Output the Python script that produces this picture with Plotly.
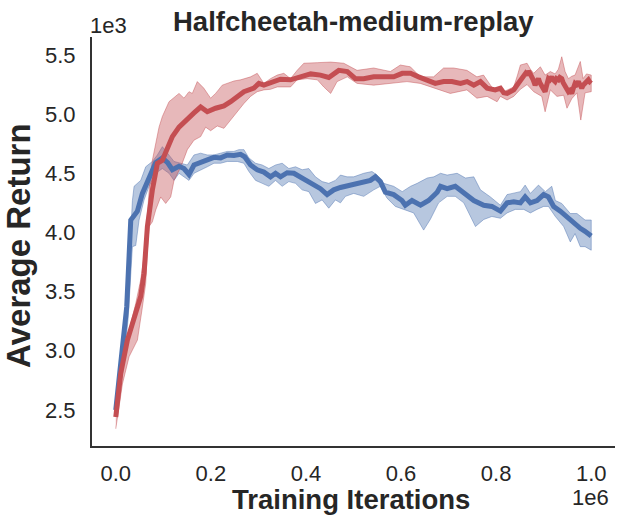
import plotly.graph_objects as go

# iterations / average return

# blue run: mean curve
blue_x = [0, 10500, 23000, 31500, 45500, 56000, 70000, 84000, 98000, 109000,
          119000, 133000, 143500, 154000, 164500, 178500, 192500, 206500, 220500, 234500,
          248500, 262500, 271000, 283500, 297500, 311500, 325500, 336000, 346500, 360500,
          374500, 388500, 402500, 416500, 430500, 444500, 458500, 472500, 493500, 514500,
          535500, 546000, 556500, 567000, 584500, 602000, 609000, 623000, 641000, 658000,
          676000, 683000, 697000, 714000, 732000, 753000, 774000, 791000, 809000, 823000,
          837000, 851000, 861000, 872000, 886000, 900000, 910000, 921000, 935000, 949000,
          963000, 977000, 987000, 1000000]
blue_mean = [2500, 2860, 3370, 4105, 4180, 4330, 4470, 4590, 4630, 4590,
             4530, 4560, 4540, 4490, 4570, 4590, 4610, 4635, 4630, 4655,
             4650, 4660, 4640, 4570, 4530, 4510, 4470, 4500, 4470, 4505,
             4500, 4470, 4440, 4400, 4370, 4320, 4360, 4380, 4400, 4415,
             4440, 4470, 4430, 4340, 4320, 4270, 4230, 4270, 4230, 4270,
             4340, 4390, 4370, 4390, 4330, 4270, 4230, 4220, 4180, 4250,
             4260, 4250, 4300, 4250, 4270, 4320, 4300, 4220, 4180, 4130,
             4080, 4035, 4010, 3970]

# blue run: band edges
blue_hi_x = [0, 10500, 24500, 35000, 38500, 52500, 63000, 77000, 87500, 98000,
             108500, 122500, 136500, 150500, 164500, 178500, 192500, 206500, 220500, 234500,
             248500, 259000, 269500, 280000, 294000, 308000, 322000, 336000, 350000, 364000,
             378000, 392000, 406000, 420000, 434000, 448000, 462000, 472500, 486500, 500500,
             521500, 539000, 549500, 563500, 584500, 602500, 620000, 634000, 655000, 669000,
             683000, 697000, 718000, 735500, 753000, 767000, 788000, 809000, 823000, 837000,
             851000, 861000, 872000, 889000, 903500, 917000, 924500, 938000, 956000, 970000,
             987000, 1000000]
blue_hi = [2530, 2920, 3430, 4270, 4390, 4440, 4555, 4600, 4655, 4725,
           4670, 4600, 4585, 4570, 4655, 4670, 4655, 4655, 4670, 4685,
           4685, 4700, 4700, 4630, 4585, 4570, 4540, 4570, 4585, 4540,
           4555, 4530, 4540, 4470, 4430, 4415, 4440, 4485, 4470, 4470,
           4500, 4515, 4485, 4415, 4390, 4345, 4390, 4415, 4460, 4470,
           4500, 4485, 4500, 4460, 4470, 4360, 4300, 4230, 4320, 4330,
           4345, 4400, 4330, 4400, 4345, 4390, 4270, 4245, 4160, 4160,
           4105, 4105]
blue_lo_x = [0, 14000, 26000, 35000, 42000, 49000, 59500, 70000, 84000, 98000,
             112000, 122500, 133000, 143500, 154000, 164500, 178500, 192500, 206500, 220500,
             234500, 255500, 269500, 280000, 294000, 308000, 322000, 336000, 350000, 364000,
             378000, 392000, 406000, 420000, 434000, 448000, 462000, 472500, 483000, 500500,
             521500, 542500, 556500, 570500, 588000, 605500, 626500, 647500, 661500, 679000,
             697000, 714000, 732000, 746000, 756500, 774000, 791000, 809000, 823000, 840500,
             858000, 872000, 886000, 900000, 910000, 924500, 942000, 956000, 966000, 977000,
             987000, 1000000]
blue_lo = [2475, 2800, 3270, 3880, 3890, 4105, 4275, 4390, 4500, 4540,
           4500, 4440, 4500, 4470, 4440, 4500, 4530, 4555, 4585, 4585,
           4600, 4600, 4585, 4515, 4440, 4415, 4390, 4440, 4390, 4430,
           4415, 4360, 4345, 4245, 4275, 4205, 4275, 4250, 4305, 4330,
           4305, 4360, 4390, 4290, 4220, 4195, 4165, 4020, 4110, 4250,
           4305, 4305, 4250, 4135, 4050, 4110, 4135, 4120, 4165, 4195,
           4195, 4165, 4195, 4220, 4220, 4135, 4050, 3920, 3990, 3880,
           3880, 3850]

# red run: mean curve
red_x = [0, 10500, 24500, 38500, 52500, 59500, 66500, 77000, 87500, 98000,
         108500, 119000, 133000, 150500, 164500, 178500, 192500, 210000, 227500, 241500,
         255500, 269500, 290500, 301000, 311500, 329000, 346500, 367500, 388500, 410000,
         430500, 448000, 469000, 487000, 504000, 521500, 542500, 563500, 584500, 602500,
         620000, 637000, 655000, 672000, 689500, 707000, 725000, 739000, 753000, 767000,
         781000, 798000, 809000, 816000, 823000, 830000, 837000, 843000, 847000, 851000,
         855000, 858000, 862000, 865000, 868000, 871000, 875000, 878000, 882000, 885000,
         889000, 892000, 896000, 899000, 903000, 906000, 910000, 913000, 917000, 920000,
         924000, 927000, 931000, 934000, 938000, 941000, 945000, 948000, 952000, 955000,
         959000, 962000, 966000, 969000, 973000, 976000, 980000, 983000, 987000, 990000,
         994000, 997000, 1000000]
red_mean = [2440, 2810, 3090, 3290, 3460, 3655, 4050, 4360, 4585, 4610,
            4700, 4810, 4890, 4965, 5010, 5060, 5020, 5050, 5070, 5105,
            5150, 5190, 5220, 5260, 5245, 5275, 5295, 5290, 5320, 5340,
            5330, 5310, 5370, 5360, 5300, 5300, 5315, 5310, 5315, 5345,
            5345, 5315, 5290, 5260, 5275, 5275, 5260, 5275, 5245, 5275,
            5220, 5205, 5220, 5180, 5175, 5195, 5205, 5240, 5260, 5290,
            5300, 5320, 5345, 5330, 5365, 5345, 5320, 5290, 5245, 5275,
            5300, 5265, 5230, 5210, 5190, 5240, 5300, 5290, 5315, 5290,
            5275, 5300, 5290, 5310, 5300, 5265, 5230, 5210, 5190, 5200,
            5175, 5215, 5260, 5250, 5275, 5250, 5220, 5245, 5260, 5275,
            5290, 5270, 5260]

# red run: band edges
red_hi_x = [0, 14000, 28000, 42000, 52500, 59500, 66500, 72000, 77000, 84000,
            91000, 98000, 112000, 133000, 143500, 154000, 161000, 171500, 185000, 199500,
            210000, 224000, 248500, 262500, 283500, 297500, 311500, 325500, 339500, 353500,
            367500, 381500, 395500, 424000, 452000, 479500, 507500, 542500, 577500, 598500,
            619500, 640500, 668500, 689500, 710500, 738500, 759500, 773500, 795000, 816000,
            837000, 845000, 851000, 865000, 872000, 879000, 893000, 903000, 914000, 924000,
            931000, 938000, 945000, 952000, 959000, 966000, 977000, 983000, 990000, 1000000]
red_hi = [2500, 2860, 3170, 3400, 3600, 3800, 4150, 4450, 4610, 4750,
          4890, 4980, 5105, 5175, 5135, 5190, 5175, 5275, 5220, 5135,
          5175, 5245, 5280, 5290, 5315, 5345, 5260, 5300, 5330, 5345,
          5300, 5370, 5430, 5435, 5440, 5430, 5370, 5390, 5360, 5415,
          5400, 5315, 5315, 5390, 5390, 5370, 5315, 5330, 5205, 5190,
          5230, 5330, 5415, 5430, 5380, 5345, 5400, 5330, 5360, 5340,
          5380, 5485, 5360, 5300, 5320, 5330, 5445, 5300, 5340, 5330]
red_lo_x = [0, 14000, 28000, 45500, 56000, 63000, 66500, 70000, 77000, 84000,
            94500, 105000, 115500, 122500, 136500, 150500, 164500, 178500, 189000, 199500,
            213500, 227500, 241500, 255500, 269500, 283500, 297500, 311500, 325500, 339500,
            353500, 367500, 381500, 402500, 424000, 437500, 452000, 465500, 487000, 507500,
            542500, 577500, 612500, 640500, 668500, 703500, 738500, 759500, 781000, 802000,
            809000, 823000, 837000, 851000, 865000, 879000, 896000, 903000, 914000, 928000,
            942000, 949000, 959000, 970000, 978000, 987000, 1000000]
red_lo = [2340, 2720, 2950, 3090, 3370, 3570, 3850, 4050, 4090, 4190,
          4300, 4245, 4300, 4440, 4550, 4700, 4780, 4810, 4890, 4860,
          4900, 4880, 4950, 5020, 5090, 5150, 5190, 5205, 5210, 5230,
          5230, 5230, 5290, 5300, 5290, 5230, 5175, 5275, 5315, 5260,
          5245, 5260, 5275, 5260, 5220, 5175, 5205, 5135, 5150, 5105,
          5150, 5120, 5150, 5210, 5250, 5190, 5150, 5020, 5205, 5150,
          5160, 5050, 5130, 5180, 4950, 5180, 5190]

x_ticks = [0, 200000, 400000, 600000, 800000, 1000000]
x_tick_labels = ['0.0', '0.2', '0.4', '0.6', '0.8', '1.0']
y_ticks = [2500, 3000, 3500, 4000, 4500, 5000, 5500]
y_tick_labels = ['2.5', '3.0', '3.5', '4.0', '4.5', '5.0', '5.5']

BLUE = '#4C72B0'
RED = '#C44E52'
FONT = 'Liberation Sans, Arial, sans-serif'
INK = '#262626'


def band_trace(hx, hy, lx, ly, rgb):
    '''closed polygon: upper edge forward, lower edge back'''
    return go.Scatter(
        x=hx + lx[::-1],
        y=hy + ly[::-1],
        fill='toself',
        fillcolor=f'rgba({rgb},0.4)',
        line=dict(color=f'rgba({rgb},0.45)', width=1),
        mode='lines',
        hoverinfo='skip',
    )


fig = go.Figure()
fig.add_trace(band_trace(blue_hi_x, blue_hi, blue_lo_x, blue_lo, '76,114,176'))
fig.add_trace(band_trace(red_hi_x, red_hi, red_lo_x, red_lo, '196,78,82'))
fig.add_trace(go.Scatter(x=blue_x, y=blue_mean, mode='lines',
                         line=dict(color=BLUE, width=5)))
fig.add_trace(go.Scatter(x=red_x, y=red_mean, mode='lines',
                         line=dict(color=RED, width=5)))

axis_common = dict(
    showgrid=False,
    zeroline=False,
    showline=True,
    linecolor='#333333',
    linewidth=2,
    ticks='',
    automargin=False,
    tickfont=dict(family=FONT, size=22, color=INK),
)

fig.update_layout(
    width=623,
    height=522,
    margin=dict(l=92, r=8, t=37, b=76),
    paper_bgcolor='white',
    plot_bgcolor='white',
    showlegend=False,
    xaxis=dict(range=[-50000, 1050000], tickvals=x_ticks, ticktext=x_tick_labels,
               ticklabelstandoff=7, **axis_common),
    yaxis=dict(range=[2195, 5652], tickvals=y_ticks, ticktext=y_tick_labels,
               ticklabelstandoff=10, **axis_common),
)

annotations = [
    dict(text='<b>Halfcheetah-medium-replay</b>', x=0.5, y=0.995, xanchor='center',
         yanchor='bottom', font=dict(size=27.5)),
    dict(text='<b>Average Return</b>', x=-0.142, y=0.491, textangle=-90,
         xanchor='center', yanchor='middle', font=dict(size=33)),
    dict(text='<b>Training Iterations</b>', x=0.495, y=-0.132, xanchor='center',
         yanchor='middle', font=dict(size=27.5)),
    dict(text='1e3', x=-0.008, y=1.027, xanchor='left', yanchor='middle',
         font=dict(size=22)),
    dict(text='1e6', x=0.992, y=-0.127, xanchor='right', yanchor='middle',
         font=dict(size=22)),
]
for a in annotations:
    a['font'].update(family=FONT, color=INK)
    fig.add_annotation(xref='paper', yref='paper', showarrow=False, **a)

# the page body has an 8px default margin; drop it so the figure sits at 0,0
fig.write_html("out.html", config={'displayModeBar': False},
               post_script="document.body.style.margin = '0';")
